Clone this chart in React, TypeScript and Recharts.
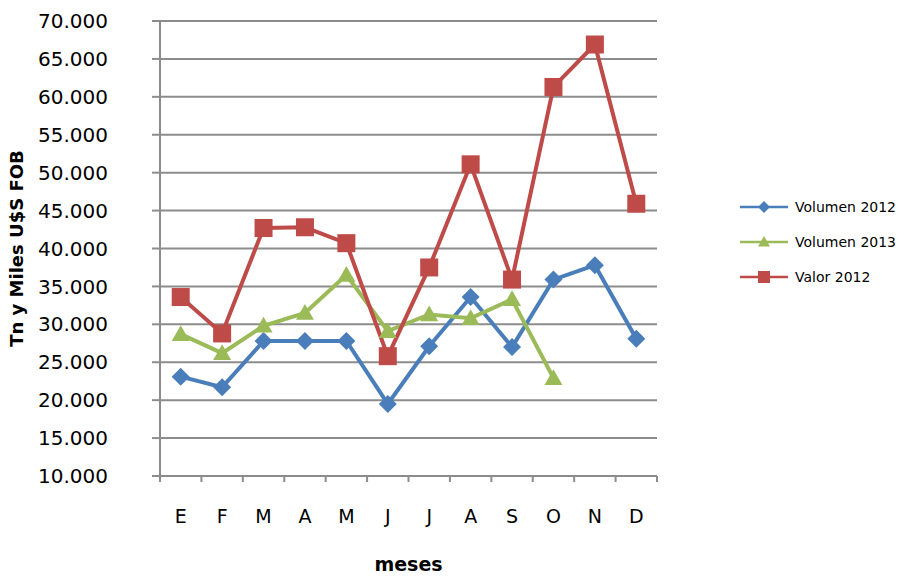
import { LineChart, Line, XAxis, YAxis, CartesianGrid, Label } from "recharts";

const months = ["E", "F", "M", "A", "M", "J", "J", "A", "S", "O", "N", "D"];
const volumen2012 = [23100, 21700, 27800, 27800, 27800, 19500, 27100, 33600, 27000, 35900, 37800, 28100];
const volumen2013 = [28700, 26200, 29800, 31500, 36500, 29100, 31300, 30800, 33300, 22900, null, null];
const valor2012 = [33600, 28800, 42700, 42800, 40700, 25800, 37500, 51100, 35900, 61300, 66900, 45900];
const yTicks = [10000, 15000, 20000, 25000, 30000, 35000, 40000, 45000, 50000, 55000, 60000, 65000, 70000];

const BLUE = "#4a7ebb";
const GREEN = "#9bbb59";
const RED = "#be4b48";
const GRID = "#8c8c8c";
const FONT = "'DejaVu Sans', sans-serif";

const data = months.map((m, i) => ({
  m,
  v12: volumen2012[i],
  v13: volumen2013[i],
  val: valor2012[i],
}));

const PLOT_W = 497;
const HALF_BAND = PLOT_W / months.length / 2;

function Diamond({ cx, cy, r = 8, fill }: any) {
  if (cx == null || cy == null) return null;
  return <polygon points={`${cx},${cy - r} ${cx + r},${cy} ${cx},${cy + r} ${cx - r},${cy}`} fill={fill} />;
}

function Triangle({ cx, cy, r = 9, fill }: any) {
  if (cx == null || cy == null) return null;
  return <polygon points={`${cx},${cy - r} ${cx + r},${cy + r * 0.75} ${cx - r},${cy + r * 0.75}`} fill={fill} />;
}

function Square({ cx, cy, r = 9, fill }: any) {
  if (cx == null || cy == null) return null;
  return <rect x={cx - r} y={cy - r} width={r * 2} height={r * 2} fill={fill} />;
}

function MonthTick({ x, y, payload, index }: any) {
  return (
    <g>
      <line x1={x - HALF_BAND} y1={y - 8} x2={x - HALF_BAND} y2={y - 2} stroke={GRID} strokeWidth={2} />
      {index === months.length - 1 && (
        <line x1={x + HALF_BAND} y1={y - 8} x2={x + HALF_BAND} y2={y - 2} stroke={GRID} strokeWidth={2} />
      )}
      <text x={x} y={y + 39} textAnchor="middle" fontSize={19} fontFamily={FONT} fill="#000">
        {payload.value}
      </text>
    </g>
  );
}

const legendItems = [
  { label: "Volumen 2012", color: BLUE, Icon: Diamond },
  { label: "Volumen 2013", color: GREEN, Icon: Triangle },
  { label: "Valor 2012", color: RED, Icon: Square },
];

function LegendBox() {
  return (
    <svg width={160} height={100}>
      {legendItems.map((it, i) => {
        const y = 12 + i * 35;
        return (
          <g key={it.label}>
            <line x1={2} y1={y} x2={50} y2={y} stroke={it.color} strokeWidth={2.5} />
            <it.Icon cx={26} cy={y} r={6} fill={it.color} />
            <text x={57} y={y + 5} fontSize={14} fontFamily={FONT} fill="#000">
              {it.label}
            </text>
          </g>
        );
      })}
    </svg>
  );
}

export default function App() {
  return (
    <div style={{ position: "absolute", left: 0, top: 0, width: 898, height: 576 }}>
      <LineChart width={898} height={576} data={data} margin={{ top: 21, right: 241, bottom: 0, left: 0 }}>
        <CartesianGrid vertical={false} stroke={GRID} strokeWidth={2} />
        <XAxis
          dataKey="m"
          stroke={GRID}
          strokeWidth={2}
          tickLine={false}
          height={100}
          interval={0}
          padding={{ left: HALF_BAND, right: HALF_BAND }}
          tick={<MonthTick />}
        >
          <Label
            value="meses"
            position="insideBottom"
            offset={5}
            style={{ fontFamily: FONT, fontSize: 19, fontWeight: "bold", fill: "#000" }}
          />
        </XAxis>
        <YAxis
          domain={[10000, 70000]}
          ticks={yTicks}
          interval={0}
          width={160}
          stroke={GRID}
          strokeWidth={2}
          tickSize={8}
          tickMargin={44}
          tickFormatter={(v: number) => (v / 1000).toFixed(3)}
          tick={{ fontFamily: FONT, fontSize: 20, fill: "#000" }}
        >
          <Label
            value="Tn y Miles U$S FOB"
            angle={-90}
            position="insideLeft"
            offset={17}
            style={{ textAnchor: "middle", fontFamily: FONT, fontSize: 18, fontWeight: "bold", fill: "#000" }}
          />
        </YAxis>
        <Line
          dataKey="v12"
          stroke={BLUE}
          strokeWidth={4}
          dot={(p: any) => <Diamond key={p.index} cx={p.cx} cy={p.cy} r={9} fill={BLUE} />}
          isAnimationActive={false}
        />
        <Line
          dataKey="v13"
          stroke={GREEN}
          strokeWidth={4}
          dot={(p: any) => <Triangle key={p.index} cx={p.cx} cy={p.cy} r={9} fill={GREEN} />}
          isAnimationActive={false}
        />
        <Line
          dataKey="val"
          stroke={RED}
          strokeWidth={4}
          dot={(p: any) => <Square key={p.index} cx={p.cx} cy={p.cy} r={9} fill={RED} />}
          isAnimationActive={false}
        />
      </LineChart>
      <div style={{ position: "absolute", left: 738, top: 195 }}>
        <LegendBox />
      </div>
    </div>
  );
}
